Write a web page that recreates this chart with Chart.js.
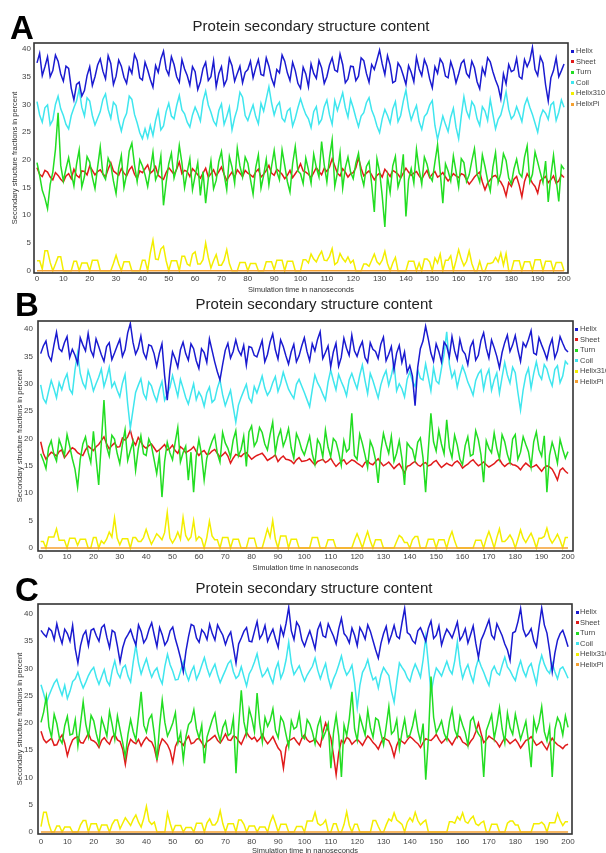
<!DOCTYPE html>
<html>
<head>
<meta charset="utf-8">
<script src="https://cdn.jsdelivr.net/npm/chart.js@4.4.1/dist/chart.umd.min.js"></script>
<style>
  html, body { margin: 0; padding: 0; background: #fff; }
  #page { position: relative; width: 606px; height: 853px; overflow: hidden; font-family: "Liberation Sans", Arial, sans-serif; }
  canvas { position: absolute; left: 0; }
  .letter { position: absolute; font-weight: bold; font-size: 33px; line-height: 33px; color: #000; }
  .title { position: absolute; left: 311px; transform: translateX(-50%); font-size: 15px; line-height: 15px; color: #222; white-space: nowrap; }
  .dot { position: absolute; width: 3px; height: 3px; }
  .lg { position: absolute; font-size: 7.5px; line-height: 10px; color: #444; white-space: nowrap; }
</style>
</head>
<body>
<div id="page">
  <canvas id="chartA" width="606" height="296" style="top:0px"></canvas>
  <canvas id="chartB" width="606" height="282" style="top:296px"></canvas>
  <canvas id="chartC" width="606" height="282" style="top:575px"></canvas>

  <div class="letter" style="left:10px;top:11px">A</div>
  <div class="letter" style="left:15px;top:288px">B</div>
  <div class="letter" style="left:15px;top:573px">C</div>

  <div class="title" style="top:18px">Protein secondary structure content</div>
  <div class="title" style="top:296px;left:314px">Protein secondary structure content</div>
  <div class="title" style="top:580px;left:314px">Protein secondary structure content</div>
</div>

<script>
// Sampling grid (ns) and axis ticks
const timeNs = Array.from({ length: 201 }, (_, i) => i);
const xTicks = [0, 10, 20, 30, 40, 50, 60, 70, 80, 90, 100, 110, 120, 130, 140, 150, 160, 170, 180, 190, 200];
const yTicks = [0, 5, 10, 15, 20, 25, 30, 35, 40];

const seriesNames = ['Helix', 'Sheet', 'Turn', 'Coil', 'Helix310', 'HelixPi'];
const seriesColors = {
    'Helix': '#1a1ad0',
    'Sheet': '#e01b1b',
    'Turn': '#22dd22',
    'Coil': '#3fe6ee',
    'Helix310': '#f3ee00',
    'HelixPi': '#f5a030'
};

// HelixPi stays at zero the whole run
const helixPiTimes = [0, 200];
const helixPiValues = [0, 0];

// Each series is read at even ns (0..200) and odd ns (1..199)

// Panel A
const helixA = [
    37.5, 35.2, 38.6, 36.1, 37.8, 34.2, 36.5, 30.8, 34.0, 32.5,
    36.8, 35.0, 38.2, 34.6, 37.4, 35.1, 36.9, 33.8, 35.6, 37.9,
    34.4, 36.2, 33.1, 35.8, 39.6, 35.3, 37.2, 34.0, 36.4, 33.5,
    35.9, 34.1, 37.6, 35.0, 33.2, 36.8, 34.5, 37.0, 35.6, 33.9,
    36.3, 34.8, 38.1, 35.2, 36.9, 33.4, 35.7, 37.8, 34.3, 36.1,
    32.9, 35.5, 37.3, 34.7, 36.6, 35.0, 38.4, 35.9, 37.2, 34.6,
    36.8, 35.1, 37.9, 34.0, 36.3, 39.8, 35.4, 37.1, 34.2, 36.7,
    33.6, 35.8, 38.5, 35.2, 36.9, 33.0, 35.6, 37.4, 34.8, 36.2,
    35.5, 38.0, 34.9, 36.6, 32.8, 35.3, 37.7, 34.4, 31.0, 33.7,
    35.9, 38.3, 34.6, 36.8, 40.3, 35.2, 37.5, 30.6, 36.1, 35.0,
    37.3
];
const helixAOdd = [
    39.2, 36.8, 35.0, 38.9, 35.5, 36.9, 32.9, 33.6, 31.5, 35.2,
    33.4, 37.1, 36.0, 38.8, 33.6, 38.0, 34.9, 36.7, 39.0, 34.8,
    37.6, 34.5, 37.0, 38.2, 36.4, 38.6, 35.0, 38.1, 35.2, 36.8,
    32.7, 36.5, 34.3, 37.9, 35.6, 33.4, 38.3, 34.2, 36.9, 35.8,
    37.8, 36.6, 35.4, 38.4, 34.7, 36.3, 38.9, 35.7, 37.6, 33.8,
    36.7, 33.2, 35.6, 37.9, 33.8, 37.1, 36.2, 39.1, 33.9, 36.9,
    34.3, 38.4, 35.6, 37.2, 38.0, 37.3, 38.8, 33.9, 37.5, 35.2,
    37.0, 34.1, 36.4, 38.1, 34.6, 36.8, 38.2, 35.1, 37.7, 33.9,
    37.4, 35.6, 37.8, 34.1, 36.6, 38.4, 35.9, 33.2, 35.5, 37.2,
    36.2, 35.0, 38.1, 37.9, 36.3, 38.6, 33.5, 34.8, 38.4, 36.1
];
const sheetA = [
    18.6, 17.0, 17.8, 16.4, 17.2, 16.0, 17.5, 18.3, 16.8, 17.9,
    18.9, 17.3, 18.2, 16.9, 19.5, 17.6, 18.4, 17.1, 18.8, 16.6,
    17.7, 19.1, 18.0, 17.2, 16.5, 18.6, 17.4, 19.6, 18.1, 17.0,
    17.9, 16.7, 18.5, 17.5, 17.1, 18.7, 16.3, 17.8, 18.2, 17.0,
    17.6, 16.9, 18.3, 17.4, 19.0, 17.2, 17.9, 16.6, 18.1, 17.5,
    19.3, 17.8, 16.8, 18.6, 17.3, 17.9, 20.2, 17.6, 18.4, 16.9,
    17.7, 20.4, 17.1, 18.0, 16.4, 17.6, 18.3, 17.0, 17.8, 16.7,
    18.5, 17.2, 17.9, 16.5, 18.1, 17.4, 16.9, 17.7, 16.2, 17.5,
    16.8, 17.3, 15.6, 16.9, 17.8, 14.6, 16.4, 17.2, 16.0, 13.5,
    15.2, 17.0, 13.3, 17.5, 15.8, 14.0, 16.6, 15.9, 17.1, 16.2,
    16.8
];
const sheetAOdd = [
    17.4, 18.1, 16.9, 17.7, 16.5, 17.1, 16.6, 17.2, 18.0, 17.3,
    18.1, 17.9, 17.5, 18.3, 18.0, 17.2, 17.6, 18.2, 17.4, 18.0,
    18.4, 17.6, 18.8, 16.8, 17.7, 18.0, 18.3, 17.5, 17.9, 18.4,
    17.3, 17.6, 16.9, 18.2, 17.9, 17.4, 17.1, 16.8, 17.6, 18.1,
    17.3, 17.8, 16.9, 18.1, 17.6, 18.3, 17.4, 17.2, 16.8, 18.2,
    18.0, 17.4, 17.7, 17.9, 18.5, 18.7, 18.9, 17.1, 17.8, 17.5,
    18.6, 18.5, 17.6, 17.3, 17.2, 16.9, 17.7, 18.1, 17.4, 17.6,
    17.8, 17.6, 17.1, 17.4, 16.8, 17.9, 17.2, 16.9, 16.8, 17.1,
    17.5, 16.4, 16.2, 17.4, 16.0, 15.8, 17.0, 16.5, 15.1, 15.9,
    16.5, 15.4, 16.1, 16.7, 15.2, 16.3, 17.0, 16.4, 15.8, 17.3
];
const turnA = [
    19.5, 14.5, 11.2, 17.8, 28.5, 16.2, 20.4, 15.3, 21.8, 17.0,
    19.6, 14.8, 22.3, 16.5, 19.1, 13.9, 20.8, 17.4, 23.0, 16.1,
    18.9, 15.2, 21.4, 17.6, 11.8, 19.3, 16.7, 22.6, 15.0, 20.2,
    17.1, 13.6, 12.2, 19.8, 16.3, 21.5, 14.6, 18.7, 22.1, 16.9,
    19.4, 13.8, 20.9, 17.2, 15.5, 21.7, 16.4, 19.0, 14.2, 22.4,
    17.5, 20.3, 15.8, 18.6, 23.3, 16.0, 23.6, 17.7, 14.9, 20.5,
    16.6, 21.2, 15.4, 19.7, 10.6, 17.9, 7.9, 14.1, 20.6, 16.8,
    9.8, 18.4, 21.9, 15.6, 19.2, 16.2, 22.7, 12.2, 18.0, 20.7,
    15.1, 19.5, 17.3, 22.0, 16.0, 18.8, 14.4, 21.3, 17.6, 19.9,
    15.7, 20.1, 16.9, 22.5, 17.4, 19.6, 15.9, 12.4, 20.8, 12.5,
    18.3
];
const turnAOdd = [
    17.2, 13.1, 15.6, 21.9, 19.0, 18.4, 17.6, 19.2, 15.1, 20.6,
    16.9, 18.7, 17.4, 20.3, 16.2, 18.5, 15.0, 21.6, 19.1, 20.0,
    17.3, 18.2, 16.4, 20.7, 15.9, 21.2, 18.5, 19.4, 17.8, 14.6,
    19.5, 17.9, 16.6, 14.8, 19.7, 17.4, 20.6, 15.8, 18.9, 20.5,
    16.5, 18.6, 14.9, 20.1, 18.8, 17.9, 21.8, 16.1, 19.3, 18.0,
    15.7, 18.2, 21.0, 16.9, 19.1, 20.4, 15.2, 21.3, 18.6, 17.8,
    19.4, 17.3, 18.8, 15.6, 20.2, 13.5, 17.0, 18.9, 15.1, 21.0,
    16.4, 15.8, 18.3, 20.5, 17.1, 19.6, 17.8, 19.3, 16.2, 17.9,
    20.2, 16.1, 19.8, 17.5, 20.9, 16.3, 18.7, 15.9, 21.1, 16.7,
    18.4, 17.6, 20.5, 16.0, 21.4, 17.7, 19.8, 17.1, 16.5, 19.0
];
const coilA = [
    30.5, 26.8, 29.9, 27.2, 31.5, 28.0, 25.6, 29.4, 32.8, 27.9,
    30.6, 26.3, 28.7, 31.9, 27.5, 29.8, 25.2, 28.4, 30.9, 26.7,
    23.8, 24.0, 24.4, 28.9, 26.1, 30.2, 27.4, 31.6, 28.3, 25.9,
    29.5, 27.0, 32.4, 28.6, 26.2, 30.1, 27.8, 25.4, 29.2, 31.3,
    27.1, 29.9, 26.5, 28.8, 33.2, 28.1, 30.4, 26.9, 29.3, 27.5,
    31.0, 28.2, 25.8, 29.6, 27.3, 30.8, 26.4, 28.9, 32.1, 27.7,
    29.4, 26.0, 28.5, 31.2, 27.8, 24.9, 29.1, 26.6, 30.5, 28.0,
    32.6, 27.2, 29.8, 25.5, 28.4, 30.7, 23.7, 27.9, 25.1, 29.3,
    23.8, 31.4, 27.6, 29.7, 26.2, 28.8, 30.9, 25.6, 28.1, 32.3,
    27.4, 29.6, 26.9, 31.1, 28.2, 25.0, 29.0, 27.3, 30.4, 28.6,
    29.5
];
const coilAOdd = [
    28.1, 29.4, 26.3, 30.0, 29.2, 26.4, 28.0, 30.6, 29.5, 31.2,
    28.0, 27.5, 30.9, 29.1, 30.4, 27.0, 27.3, 31.5, 28.2, 24.9,
    25.6, 26.2, 27.1, 25.4, 28.7, 27.9, 29.8, 29.0, 26.8, 28.1,
    28.4, 30.6, 29.9, 27.0, 28.9, 26.4, 29.5, 27.6, 32.2, 28.0,
    28.6, 27.8, 30.2, 31.0, 30.3, 29.7, 27.5, 28.8, 26.1, 29.4,
    29.5, 27.4, 28.7, 26.5, 29.6, 28.1, 30.7, 30.5, 29.4, 30.9,
    27.6, 27.9, 30.3, 29.0, 26.1, 27.4, 28.0, 29.2, 26.9, 30.6,
    29.3, 28.6, 26.9, 27.8, 29.9, 26.2, 25.8, 26.4, 27.7, 25.9,
    27.9, 28.8, 30.5, 27.4, 29.6, 27.1, 28.2, 27.3, 30.0, 29.1,
    28.0, 28.3, 29.8, 29.5, 26.6, 27.7, 28.4, 29.9, 27.1, 30.8
];
const helix310A = [
    1.8, 0.3, 3.6, 0.0, 2.5, 0.0, 0.0, 1.7, 0.0, 1.4,
    0.0, 1.9, 0.0, 0.0, 0.0, 2.8, 0.0, 1.6, 0.0, 0.0,
    1.9, 0.0, 5.5, 2.0, 4.4, 0.0, 1.8, 0.0, 2.6, 0.9,
    3.4, 1.2, 5.0, 0.5, 2.9, 1.0, 3.8, 0.0, 0.0, 1.5,
    0.0, 1.3, 0.0, 0.0, 1.6, 0.2, 1.9, 0.0, 1.7, 0.0,
    0.0, 2.0, 3.0, 1.6, 3.5, 1.8, 4.0, 1.5, 2.2, 2.5,
    1.9, 0.0, 1.2, 0.8, 3.0, 1.1, 3.5, 0.0, 2.4, 0.0,
    0.0, 1.7, 0.0, 0.0, 2.1, 0.0, 1.4, 0.0, 1.9, 0.0,
    3.8, 0.9, 3.6, 0.0, 1.7, 0.0, 1.3, 2.4, 3.2, 3.1,
    0.0, 1.8, 0.0, 1.6, 0.0, 2.0, 0.0, 1.7, 0.0, 1.5,
    0.0
];
const helix310AOdd = [
    1.8, 3.6, 1.5, 1.2, 2.5, 0.0, 0.0, 1.7, 1.4, 1.4,
    1.9, 1.9, 0.0, 0.0, 1.3, 1.2, 1.6, 1.6, 0.0, 0.0,
    1.9, 3.2, 2.1, 3.9, 1.8, 1.8, 1.8, 2.6, 1.2, 3.0,
    1.2, 2.0, 2.4, 1.8, 1.0, 1.9, 1.3, 0.0, 1.5, 1.5,
    1.3, 1.3, 0.0, 1.6, 1.6, 1.9, 1.9, 1.7, 1.7, 0.0,
    2.0, 1.4, 2.1, 2.7, 1.9, 2.6, 1.1, 3.1, 1.6, 1.4,
    0.0, 0.0, 1.2, 1.9, 1.6, 1.9, 1.3, 1.4, 0.0, 0.0,
    1.7, 1.7, 1.4, 2.1, 1.6, 2.3, 3.0, 1.9, 2.7, 1.8,
    2.1, 1.7, 1.3, 0.0, 0.0, 1.3, 1.5, 1.6, 1.0, 0.0,
    1.8, 1.8, 1.6, 1.6, 2.0, 2.0, 1.7, 1.7, 1.5, 1.5
];

// Panel B
const helixB = [
    35.5, 37.8, 34.2, 39.4, 35.9, 38.6, 36.3, 33.7, 37.1, 39.2,
    35.0, 36.8, 34.1, 37.5, 35.6, 38.1, 36.2, 41.0, 35.4, 38.7,
    34.6, 36.9, 33.2, 37.3, 27.0, 35.8, 33.0, 37.6, 34.3, 36.4,
    32.8, 35.7, 38.2, 34.0, 30.7, 36.1, 34.7, 38.0, 35.2, 33.4,
    36.6, 34.9, 37.9, 35.3, 39.1, 34.5, 36.8, 33.6, 37.2, 35.1,
    38.4, 34.2, 36.0, 39.5, 35.7, 33.1, 37.4, 34.8, 36.5, 38.9,
    35.0, 37.7, 33.9, 36.3, 34.6, 38.5, 35.4, 32.6, 37.0, 35.8,
    33.3, 26.0, 36.4, 40.5, 35.6, 37.3, 34.0, 36.9, 38.6, 34.4,
    36.1, 33.5, 37.8, 35.2, 39.3, 34.7, 36.6, 32.9, 37.5, 35.9,
    38.8, 34.1, 36.7, 39.7, 35.3, 37.1, 34.5, 38.2, 36.0, 37.4,
    35.8
];
const helixBOdd = [
    36.9, 35.1, 37.0, 36.4, 37.5, 34.8, 35.2, 38.4, 36.0, 36.1,
    38.2, 35.3, 36.8, 34.4, 36.9, 35.0, 39.3, 37.6, 36.5, 35.7,
    37.1, 35.5, 35.6, 31.5, 32.4, 34.6, 36.2, 35.5, 37.3, 34.2,
    36.4, 33.9, 36.1, 32.2, 33.5, 37.4, 35.9, 36.1, 37.0, 36.8,
    35.2, 36.4, 34.0, 37.6, 36.2, 38.0, 35.1, 35.8, 34.0, 36.9,
    35.9, 37.3, 38.1, 34.6, 36.9, 35.8, 33.2, 38.3, 35.2, 36.0,
    36.6, 34.8, 37.5, 35.9, 37.2, 34.2, 36.8, 35.6, 33.9, 32.1,
    31.4, 33.0, 37.8, 38.2, 34.1, 35.9, 37.6, 34.9, 36.0, 38.1,
    35.4, 36.7, 34.3, 37.9, 36.5, 38.0, 35.0, 35.7, 38.9, 37.1,
    36.2, 37.5, 38.1, 35.6, 38.4, 35.9, 36.8, 34.7, 38.6, 36.3
];
const sheetB = [
    19.4, 16.2, 17.5, 16.8, 17.9, 17.1, 18.3, 17.4, 16.9, 18.6,
    17.8, 18.9, 20.3, 18.1, 19.2, 18.5, 19.7, 21.5, 18.8, 19.4,
    18.2, 19.0, 17.6, 18.4, 17.9, 18.8, 17.3, 18.1, 17.7, 18.5,
    16.9, 17.8, 17.2, 18.0, 16.6, 17.5, 15.5, 17.1, 16.7, 17.4,
    16.2, 16.9, 17.3, 16.0, 16.6, 15.8, 16.8, 16.1, 15.4, 16.5,
    15.9, 16.3, 15.2, 16.0, 15.6, 16.4, 14.9, 15.8, 15.3, 16.1,
    15.5, 14.8, 15.9, 15.2, 16.3, 15.0, 15.7, 14.5, 15.4, 13.7,
    15.1, 15.8, 14.9, 15.6, 15.2, 16.0, 14.7, 15.5, 15.0, 15.9,
    14.6, 15.3, 16.1, 15.0, 15.7, 14.8, 15.4, 16.2, 14.9, 15.6,
    15.1, 14.3, 15.5, 14.7, 15.2, 14.0, 15.0, 14.4, 12.4, 14.6,
    13.6
];
const sheetBOdd = [
    17.3, 16.9, 17.2, 17.6, 16.5, 17.8, 18.0, 17.1, 17.9, 18.2,
    18.5, 19.6, 19.0, 18.7, 18.4, 20.1, 20.3, 19.6, 20.2, 18.6,
    18.7, 18.3, 17.9, 18.9, 18.2, 17.8, 18.5, 17.4, 18.0, 17.6,
    17.5, 17.1, 17.7, 17.3, 17.0, 16.8, 16.4, 16.9, 17.2, 16.8,
    16.6, 17.1, 16.7, 16.3, 17.0, 16.4, 16.2, 15.9, 16.1, 15.8,
    16.0, 15.7, 15.8, 16.2, 15.9, 15.6, 15.4, 16.1, 15.7, 15.9,
    15.2, 15.6, 15.4, 15.8, 15.6, 15.3, 15.1, 15.0, 14.6, 14.9,
    15.5, 15.2, 15.4, 15.0, 15.7, 15.3, 15.1, 15.2, 15.6, 15.4,
    15.0, 15.8, 15.5, 15.3, 15.2, 15.1, 15.9, 15.4, 15.3, 15.2,
    14.8, 15.0, 15.1, 14.9, 14.6, 14.7, 14.8, 13.5, 14.2, 14.0
];
const turnB = [
    17.2, 14.5, 19.6, 15.9, 18.4, 20.7, 16.3, 11.1, 19.0, 17.5,
    21.3, 11.5, 27.0, 16.8, 19.9, 15.4, 21.6, 17.8, 14.2, 20.5,
    16.9, 18.7, 13.6, 9.3, 19.3, 16.1, 22.0, 17.4, 12.4, 10.2,
    19.8, 12.4, 18.1, 20.6, 15.7, 19.2, 16.6, 21.4, 18.0, 14.9,
    22.3, 19.5, 21.1, 17.9, 23.0, 20.2, 18.6, 21.8, 16.4, 19.7,
    17.0, 20.4, 15.3, 18.9, 21.5, 16.7, 19.4, 15.1, 17.6, 24.6,
    16.2, 19.1, 14.7, 18.3, 11.9, 20.9, 17.3, 15.8, 19.6, 11.5,
    18.5, 16.0, 20.1, 10.2, 24.6, 17.7, 19.0, 23.4, 16.5, 18.8,
    15.2, 20.3, 17.1, 19.8, 12.0, 18.2, 21.0, 16.3, 19.4, 15.6,
    20.7, 17.5, 18.9, 14.8, 21.2, 16.8, 10.2, 19.3, 15.5, 18.0,
    17.6
];
const turnBOdd = [
    16.0, 18.3, 17.1, 19.8, 16.9, 18.6, 14.4, 16.2, 20.3, 15.6,
    16.4, 19.2, 18.5, 20.6, 17.3, 18.9, 16.0, 19.4, 18.1, 17.2,
    19.9, 16.2, 17.0, 15.8, 17.4, 19.3, 15.7, 18.6, 17.5, 16.7,
    17.1, 16.4, 19.5, 17.3, 21.1, 18.2, 19.7, 16.8, 20.4, 21.2,
    18.6, 22.0, 19.0, 20.7, 17.4, 21.6, 19.9, 18.3, 20.9, 18.0,
    18.7, 17.2, 19.8, 16.6, 18.4, 20.0, 17.5, 19.6, 18.1, 16.9,
    20.8, 17.0, 19.5, 16.1, 17.6, 18.9, 20.4, 17.3, 16.4, 19.2,
    18.0, 19.3, 16.5, 17.8, 19.4, 21.5, 17.2, 18.3, 20.6, 16.2,
    18.7, 16.8, 21.4, 17.0, 19.6, 17.4, 18.2, 20.7, 17.1, 19.9,
    16.2, 20.3, 17.6, 19.4, 18.0, 20.5, 16.9, 17.7, 19.8, 16.4
];
const coilB = [
    29.8, 26.5, 30.6, 27.4, 28.9, 31.8, 28.2, 35.6, 30.1, 32.4,
    28.7, 31.2, 29.5, 33.0, 30.3, 27.6, 31.7, 21.9, 28.4, 30.9,
    27.2, 29.6, 26.8, 30.4, 28.1, 31.5, 27.7, 29.2, 26.3, 30.0,
    28.5, 25.9, 29.4, 27.1, 30.7, 26.0, 28.8, 23.0, 27.5, 29.9,
    26.6, 28.3, 31.4, 27.9, 30.2, 28.6, 32.1, 29.0, 27.3, 30.8,
    28.4, 25.8, 31.6, 29.3, 27.0, 32.5, 28.9, 30.4, 27.8, 31.9,
    29.1, 33.4, 28.2, 30.6, 27.4, 31.3, 29.7, 33.8, 30.0, 27.6,
    32.2, 29.5, 31.0, 33.6, 28.7, 30.5, 32.8, 39.5, 31.1, 29.4,
    33.2, 30.3, 27.9, 31.8, 29.0, 32.6, 30.7, 28.3, 33.9, 30.1,
    32.0, 25.2, 31.5, 29.2, 34.0, 30.8, 32.7, 29.6, 33.3, 31.4,
    33.5
];
const coilBOdd = [
    27.3, 28.6, 29.1, 30.2, 30.7, 29.0, 32.5, 31.9, 29.2, 30.8,
    30.0, 32.7, 31.1, 29.4, 28.8, 30.1, 26.3, 25.2, 29.7, 28.2,
    30.3, 28.0, 28.9, 27.0, 29.3, 29.6, 30.8, 27.5, 28.2, 27.1,
    27.6, 28.3, 26.6, 29.2, 28.0, 27.4, 25.8, 26.1, 28.7, 27.4,
    29.5, 29.8, 29.2, 28.7, 31.3, 30.0, 30.5, 28.1, 29.9, 29.6,
    27.1, 28.9, 30.2, 28.1, 30.3, 30.6, 31.7, 29.3, 30.7, 30.4,
    31.5, 30.6, 31.9, 29.0, 29.8, 32.4, 31.5, 28.7, 29.1, 30.8,
    30.4, 32.6, 30.7, 31.2, 32.9, 30.0, 35.4, 33.6, 32.3, 31.5,
    31.9, 29.2, 30.6, 32.5, 31.4, 28.8, 32.0, 31.2, 31.6, 33.0,
    28.4, 28.9, 32.8, 31.9, 31.7, 33.5, 30.9, 32.6, 30.2, 34.1
];
const helix310B = [
    1.2, 0.0, 2.0, 3.5, 1.4, 0.0, 1.8, 0.5, 1.6, 0.0,
    1.9, 0.0, 0.8, 2.9, 5.5, 0.6, 1.7, 0.0, 1.9, 1.2,
    3.4, 0.7, 2.6, 1.5, 6.5, 0.9, 2.9, 5.6, 1.4, 5.0,
    2.1, 0.0, 4.9, 1.5, 0.0, 1.9, 0.0, 1.6, 0.0, 0.0,
    1.8, 0.0, 0.0, 3.5, 5.0, 0.0, 2.2, 0.0, 1.6, 0.0,
    0.0, 0.0, 1.9, 0.0, 0.0, 1.5, 0.0, 0.0, 0.0, 0.0,
    2.6, 0.0, 3.0, 0.0, 1.5, 0.0, 0.0, 0.0, 2.3, 1.0,
    0.0, 2.1, 0.0, 0.0, 1.6, 0.0, 1.5, 0.0, 3.0, 0.0,
    0.0, 0.0, 0.0, 1.4, 0.0, 3.0, 0.0, 3.5, 1.2, 2.4,
    0.0, 3.3, 1.0, 2.7, 0.0, 1.8, 3.6, 0.9, 2.5, 0.0,
    1.9
];
const helix310BOdd = [
    1.2, 2.0, 2.0, 1.4, 1.4, 1.8, 1.8, 1.6, 1.6, 0.0,
    1.9, 1.3, 1.6, 2.0, 1.8, 1.7, 1.7, 1.9, 1.2, 1.9,
    1.9, 1.6, 2.1, 2.8, 1.8, 1.7, 1.6, 2.3, 2.0, 1.4,
    1.7, 1.9, 2.2, 1.5, 1.9, 1.9, 1.6, 1.6, 0.0, 1.8,
    1.8, 0.0, 1.7, 2.0, 1.6, 2.2, 2.2, 1.6, 1.6, 0.0,
    0.0, 1.9, 1.9, 0.0, 1.5, 1.5, 0.0, 0.0, 0.0, 1.4,
    1.4, 1.6, 1.3, 1.5, 1.5, 0.0, 0.0, 1.2, 1.9, 1.0,
    1.5, 2.1, 0.0, 1.6, 1.6, 1.5, 1.5, 1.8, 1.3, 0.0,
    0.0, 0.0, 1.4, 1.4, 1.7, 1.6, 1.9, 1.2, 1.7, 1.5,
    1.6, 1.8, 1.9, 1.5, 1.8, 2.1, 1.8, 1.6, 1.4, 1.9
];

// Panel C
const helixC = [
    37.0, 35.8, 36.9, 38.2, 34.6, 36.4, 37.9, 31.0, 36.1, 34.2,
    37.3, 35.0, 38.0, 33.8, 36.6, 31.2, 35.4, 37.1, 34.3, 36.8,
    35.5, 38.4, 34.0, 36.2, 35.1, 37.6, 33.7, 29.4, 35.9, 37.8,
    34.8, 36.5, 38.1, 35.2, 37.0, 34.4, 36.7, 31.0, 35.6, 37.5,
    34.9, 38.6, 36.3, 35.0, 37.2, 33.9, 36.0, 41.2, 35.3, 37.7,
    34.1, 36.9, 33.6, 38.3, 35.7, 37.0, 34.5, 39.2, 35.8, 37.4,
    34.2, 36.6, 38.0, 35.1, 31.9, 36.4, 34.8, 37.9, 35.5, 41.0,
    36.2, 34.6, 37.5, 35.0, 38.7, 36.1, 34.3, 37.2, 35.6, 38.5,
    36.0, 34.7, 37.8, 32.0, 36.3, 38.9, 35.4, 37.1, 34.5, 31.5,
    36.8, 41.0, 35.9, 37.3, 34.0, 41.1, 36.5, 29.4, 35.2, 37.0,
    34.0
];
const helixCOdd = [
    36.3, 37.4, 35.3, 36.1, 37.2, 35.0, 33.6, 34.2, 36.9, 37.0,
    36.0, 37.5, 35.7, 37.0, 34.1, 33.8, 36.2, 35.6, 38.0, 34.7,
    37.2, 36.1, 37.5, 34.3, 36.9, 35.4, 31.8, 33.2, 38.1, 35.6,
    37.1, 35.3, 36.4, 38.0, 36.1, 35.8, 33.9, 34.5, 36.8, 35.0,
    36.8, 35.5, 37.9, 36.2, 35.4, 37.6, 38.3, 36.9, 38.5, 35.2,
    35.6, 35.3, 37.1, 36.0, 38.2, 35.9, 37.3, 36.4, 34.7, 36.1,
    37.5, 35.4, 36.8, 33.4, 34.6, 37.7, 36.2, 35.9, 38.4, 36.6,
    35.1, 36.9, 36.3, 37.4, 35.5, 37.8, 35.9, 36.5, 37.0, 35.2,
    37.3, 36.2, 34.6, 35.2, 37.6, 36.1, 38.2, 36.0, 33.4, 36.5,
    38.6, 37.2, 36.4, 35.1, 37.7, 38.0, 33.3, 32.8, 36.4, 35.6
];
const sheetC = [
    18.5, 16.4, 17.2, 16.0, 17.8, 14.0, 16.9, 17.5, 16.3, 18.1,
    16.7, 15.5, 17.3, 16.1, 17.9, 16.6, 12.4, 17.0, 16.2, 15.8,
    17.4, 16.5, 13.2, 17.1, 16.0, 12.8, 16.8, 15.9, 17.6, 16.4,
    17.2, 15.6, 16.9, 17.7, 16.3, 18.0, 16.8, 17.4, 16.1, 18.3,
    17.0, 16.6, 17.9, 16.2, 17.5, 15.4, 11.7, 16.7, 17.3, 16.0,
    17.8, 16.5, 17.1, 15.7, 20.0, 17.2, 10.5, 16.8, 17.4, 16.1,
    17.0, 15.9, 17.6, 16.4, 15.2, 17.3, 16.7, 13.8, 17.0, 16.2,
    17.5, 16.6, 15.5, 17.1, 16.8, 17.9, 16.3, 17.4, 16.0, 17.7,
    16.5, 15.8, 17.2, 20.0, 16.4, 17.6, 16.9, 15.6, 17.3, 16.2,
    17.0, 15.4, 16.8, 17.5, 15.9, 16.6, 15.1, 17.2, 16.0, 15.3,
    16.1
];
const sheetCOdd = [
    17.0, 16.8, 15.9, 17.1, 16.3, 15.7, 17.3, 16.4, 17.2, 16.9,
    16.3, 16.8, 16.6, 17.4, 16.9, 15.2, 15.6, 16.5, 17.0, 16.7,
    16.8, 15.4, 15.8, 16.6, 14.9, 15.7, 16.5, 16.9, 16.2, 17.0,
    16.4, 16.6, 17.3, 16.8, 17.1, 16.9, 17.6, 16.7, 17.2, 17.5,
    17.4, 17.1, 16.9, 16.8, 16.4, 14.8, 15.5, 17.0, 16.6, 17.2,
    16.9, 16.7, 16.4, 18.3, 18.6, 14.1, 14.6, 16.3, 17.0, 16.6,
    16.5, 16.8, 17.1, 15.9, 16.4, 17.0, 15.6, 15.9, 16.6, 16.9,
    17.1, 16.2, 16.4, 16.9, 17.3, 17.0, 16.8, 16.7, 16.9, 17.4,
    16.2, 16.6, 18.4, 18.1, 16.9, 17.2, 16.4, 16.5, 16.8, 16.6,
    16.3, 16.1, 17.0, 16.7, 16.2, 15.8, 16.4, 16.5, 15.7, 15.9
];
const turnC = [
    20.1, 24.8, 17.4, 19.9, 16.3, 21.2, 18.0, 15.8, 23.9, 17.5,
    20.4, 16.1, 19.3, 22.1, 17.0, 18.8, 13.8, 20.6, 16.9, 25.7,
    18.3, 21.5, 13.2, 24.2, 17.6, 20.0, 16.4, 13.2, 19.7, 22.4,
    17.2, 12.6, 19.0, 21.8, 16.7, 20.3, 18.1, 10.8, 26.0, 17.9,
    20.8, 25.5, 16.5, 19.4, 22.6, 17.3, 20.2, 15.6, 18.9, 21.7,
    17.1, 19.8, 16.2, 20.9, 18.4, 11.7, 21.4, 10.1, 17.7, 25.7,
    16.8, 19.5, 22.3, 17.4, 20.5, 16.0, 23.0, 18.6, 15.3, 20.7,
    17.8, 21.9, 16.6, 9.6, 28.5, 18.2, 20.4, 16.9, 22.5, 17.5,
    19.6, 15.9, 21.1, 18.0, 10.1, 20.0, 17.2, 22.8, 16.4, 19.1,
    21.6, 17.0, 20.3, 11.9, 18.5, 23.0, 16.7, 10.1, 21.0, 17.8,
    19.2
];
const turnCOdd = [
    22.0, 19.3, 21.6, 17.2, 19.5, 17.8, 20.6, 19.9, 19.8, 21.4,
    18.0, 20.8, 17.6, 19.7, 21.3, 16.4, 17.9, 18.4, 21.2, 19.6,
    20.7, 17.9, 19.4, 20.1, 18.7, 21.9, 18.2, 17.5, 20.3, 18.9,
    19.6, 17.4, 20.6, 18.5, 19.2, 17.7, 20.9, 19.4, 20.2, 22.6,
    18.4, 19.9, 21.0, 20.5, 18.6, 21.1, 17.8, 20.4, 19.3, 17.6,
    20.6, 18.3, 19.4, 17.2, 19.9, 18.2, 17.6, 19.6, 20.8, 18.9,
    21.2, 17.8, 19.1, 20.9, 18.1, 19.4, 18.0, 20.6, 18.3, 17.4,
    19.5, 18.7, 19.9, 17.1, 21.0, 19.2, 18.1, 20.3, 18.8, 21.2,
    18.2, 20.4, 19.0, 17.3, 18.6, 21.5, 19.7, 18.9, 21.8, 17.9,
    19.3, 18.6, 16.5, 20.7, 20.1, 18.4, 19.2, 18.8, 20.0, 21.3
];
const coilC = [
    27.0, 23.6, 26.2, 28.0, 25.1, 24.5, 27.6, 29.3, 26.4, 28.7,
    30.2, 27.1, 29.8, 26.9, 31.4, 28.3, 30.6, 27.5, 34.3, 29.0,
    31.8, 28.4, 30.1, 27.2, 32.6, 29.5, 28.0, 31.2, 27.8, 30.4,
    29.1, 32.0, 28.6, 30.8, 27.4, 29.7, 31.5, 28.2, 30.3, 26.8,
    29.9, 32.7, 28.5, 30.0, 27.3, 31.1, 29.4, 34.8, 28.9, 30.5,
    27.7, 29.6, 31.9, 28.1, 30.9, 26.5, 29.2, 32.3, 28.8, 30.6,
    22.8, 29.3, 31.6, 27.9, 26.4, 30.2, 28.7, 23.8, 31.0, 29.5,
    27.6, 30.8, 28.4, 35.8, 25.5, 30.1, 28.6, 31.3, 29.0, 34.9,
    28.2, 30.7, 27.5, 31.8, 29.3, 26.9, 30.4, 28.8, 32.1, 29.6,
    27.8, 31.4, 28.5, 30.9, 27.2, 32.4, 29.7, 31.0, 28.1, 30.3,
    28.2
];
const coilCOdd = [
    25.4, 25.0, 27.3, 26.4, 26.9, 25.8, 28.1, 27.7, 27.5, 29.6,
    28.4, 28.5, 27.7, 29.6, 29.2, 30.1, 28.6, 31.2, 31.0, 30.5,
    29.9, 29.5, 28.3, 30.4, 30.7, 27.9, 29.6, 29.1, 29.4, 28.0,
    30.6, 30.1, 29.8, 28.9, 28.6, 30.9, 29.4, 28.7, 28.5, 29.0,
    31.2, 30.3, 29.1, 28.5, 29.8, 28.2, 31.6, 30.9, 29.7, 29.0,
    28.8, 30.4, 29.7, 29.6, 28.3, 28.1, 30.7, 30.1, 29.5, 27.4,
    26.9, 30.2, 29.5, 28.4, 28.8, 29.4, 25.8, 27.6, 30.2, 28.3,
    29.5, 29.7, 31.6, 30.9, 28.2, 29.4, 30.0, 29.8, 31.4, 30.7,
    29.7, 28.9, 30.1, 30.4, 28.0, 29.5, 29.2, 30.6, 30.3, 28.6,
    29.9, 29.6, 30.2, 29.0, 30.5, 30.8, 29.1, 29.4, 29.9, 29.3
];
const helix310C = [
    1.0, 3.6, 0.0, 1.1, 0.0, 0.9, 0.0, 0.0, 2.1, 0.0,
    1.5, 0.0, 1.3, 0.0, 2.2, 0.6, 2.6, 1.2, 3.1, 0.9,
    4.7, 1.4, 0.0, 0.0, 3.5, 0.0, 1.2, 0.0, 0.8, 0.0,
    1.6, 0.0, 2.4, 1.3, 3.9, 0.0, 1.5, 0.0, 2.2, 0.0,
    1.1, 0.0, 0.9, 0.0, 3.0, 0.0, 1.4, 0.0, 0.0, 1.0,
    0.0, 2.0, 3.6, 1.2, 2.2, 0.0, 1.5, 0.0, 3.7, 0.0,
    1.4, 0.0, 0.0, 2.1, 1.0, 0.0, 2.4, 3.5, 1.8, 0.0,
    2.6, 3.6, 1.3, 2.2, 0.0, 0.0, 0.0, 0.0, 1.9, 2.8,
    3.5, 1.6, 2.9, 1.2, 2.0, 0.0, 1.4, 0.0, 0.0, 2.0,
    1.3, 0.0, 0.0, 0.0, 1.5, 1.8, 0.0, 1.7, 3.4, 1.2,
    1.9
];
const helix310COdd = [
    3.6, 1.4, 0.0, 1.1, 0.9, 0.9, 0.0, 1.3, 2.1, 1.5,
    1.5, 1.3, 1.3, 1.4, 2.2, 1.6, 1.9, 2.3, 1.8, 2.5,
    2.0, 1.8, 0.0, 0.0, 1.6, 1.2, 1.2, 0.8, 0.8, 1.6,
    1.6, 1.7, 1.3, 2.0, 1.5, 1.5, 1.5, 2.2, 1.4, 1.1,
    1.1, 0.9, 0.9, 1.8, 1.6, 1.4, 1.4, 0.0, 1.0, 1.0,
    2.0, 2.0, 1.6, 1.5, 0.0, 1.5, 0.0, 1.4, 1.2, 1.4,
    0.0, 0.0, 0.0, 2.1, 0.0, 1.3, 2.0, 2.2, 1.4, 1.8,
    1.9, 2.1, 1.8, 0.0, 0.0, 0.0, 0.0, 1.9, 1.6, 2.2,
    1.9, 2.4, 1.5, 1.7, 0.0, 1.4, 1.4, 0.0, 1.6, 2.0,
    1.3, 0.0, 0.0, 1.5, 1.5, 1.3, 1.7, 1.7, 2.1, 1.9
];

// Layout of the three panels (pixel frame of each plot box)
const panels = [
    {
        id: 'chartA', top: 0, height: 296,
        frame: { left: 34, top: 43, right: 568, bottom: 273 },
        xRange: [-1.14, 201.5], yRange: [-0.41, 41.08],
        yTitlePad: 10.5, yTickPad: 3, xTickPad: 1,
        legend: { dotX: 572, textX: 576, y: 51, step: 10.6 },
        series: {
            Helix: [helixA, helixAOdd], Sheet: [sheetA, sheetAOdd], Turn: [turnA, turnAOdd],
            Coil: [coilA, coilAOdd], Helix310: [helix310A, helix310AOdd]
        }
    },
    {
        id: 'chartB', top: 296, height: 282,
        frame: { left: 38, top: 321, right: 573, bottom: 551 },
        xRange: [-1.02, 201.9], yRange: [-0.55, 41.46],
        yTitlePad: 15.5, yTickPad: 5, xTickPad: 1,
        legend: { dotX: 576, textX: 580, y: 329.3, step: 10.5 },
        series: {
            Helix: [helixB, helixBOdd], Sheet: [sheetB, sheetBOdd], Turn: [turnB, turnBOdd],
            Coil: [coilB, coilBOdd], Helix310: [helix310B, helix310BOdd]
        }
    },
    {
        id: 'chartC', top: 575, height: 282,
        frame: { left: 38, top: 604, right: 572, bottom: 834 },
        xRange: [-1.14, 201.5], yRange: [-0.37, 41.83],
        yTitlePad: 15.5, yTickPad: 5, xTickPad: 3,
        legend: { dotX: 577, textX: 580, y: 612.3, step: 10.5 },
        series: {
            Helix: [helixC, helixCOdd], Sheet: [sheetC, sheetCOdd], Turn: [turnC, turnCOdd],
            Coil: [coilC, coilCOdd], Helix310: [helix310C, helix310COdd]
        }
    }
];

// draw order: lower number ends up on top
const drawOrder = { 'Helix': 1, 'Turn': 2, 'HelixPi': 3, 'Coil': 4, 'Sheet': 5, 'Helix310': 6 };

const X_AXIS_HEIGHT = 21;

Chart.defaults.font.family = '"Liberation Sans", Arial, sans-serif';

const framePlugin = {
    id: 'frame',
    afterDatasetsDraw(chart) {
        const { ctx, chartArea: a } = chart;
        ctx.save();
        ctx.strokeStyle = '#333';
        ctx.lineWidth = 1.6;
        ctx.strokeRect(a.left, a.top, a.right - a.left, a.bottom - a.top);
        ctx.restore();
    }
};

// put the even-ns and odd-ns readings back in time order
function mergeSamples(even, odd) {
    const out = [];
    even.forEach((v, i) => {
        out.push(v);
        if (i < odd.length) out.push(odd[i]);
    });
    return out;
}

function lineSet(name, values, times) {
    return {
        label: name,
        data: values.map((v, i) => ({ x: times[i], y: v })),
        borderColor: seriesColors[name],
        backgroundColor: seriesColors[name],
        borderWidth: 1.5,
        pointRadius: 0,
        tension: 0,
        fill: false,
        order: drawOrder[name]
    };
}

function buildChart(panel) {
    const f = panel.frame;
    const datasets = ['Helix', 'Sheet', 'Turn', 'Coil', 'Helix310'].map(name => {
        const [even, odd] = panel.series[name];
        return lineSet(name, mergeSamples(even, odd), timeNs);
    });
    datasets.push(lineSet('HelixPi', helixPiValues, helixPiTimes));

    new Chart(document.getElementById(panel.id), {
        type: 'line',
        data: { datasets },
        plugins: [framePlugin],
        options: {
            responsive: false,
            animation: false,
            devicePixelRatio: 1,
            layout: {
                padding: {
                    left: 0,
                    top: f.top - panel.top,
                    right: 606 - f.right,
                    bottom: panel.top + panel.height - f.bottom - X_AXIS_HEIGHT
                }
            },
            plugins: { legend: { display: false }, tooltip: { enabled: false } },
            scales: {
                x: {
                    type: 'linear',
                    min: panel.xRange[0],
                    max: panel.xRange[1],
                    afterBuildTicks: axis => { axis.ticks = xTicks.map(v => ({ value: v })); },
                    afterFit: axis => { axis.height = X_AXIS_HEIGHT; },
                    grid: { display: false, drawTicks: false },
                    border: { display: false },
                    ticks: { color: '#444', font: { size: 8 }, padding: panel.xTickPad, maxRotation: 0, autoSkip: false },
                    title: {
                        display: true,
                        text: 'Simulation time in nanoseconds',
                        color: '#333',
                        font: { size: 7.5 },
                        padding: { top: 0, bottom: 0 }
                    }
                },
                y: {
                    type: 'linear',
                    min: panel.yRange[0],
                    max: panel.yRange[1],
                    afterBuildTicks: axis => { axis.ticks = yTicks.map(v => ({ value: v })); },
                    afterFit: axis => { axis.width = f.left; },
                    grid: { display: false, drawTicks: false },
                    border: { display: false },
                    ticks: { color: '#444', font: { size: 8 }, padding: panel.yTickPad },
                    title: {
                        display: true,
                        text: 'Secondary structure fractions in percent',
                        color: '#333',
                        font: { size: 7.5 },
                        padding: { top: panel.yTitlePad, bottom: 0 }
                    }
                }
            }
        }
    });
}

function buildLegend(panel) {
    const page = document.getElementById('page');
    const lg = panel.legend;
    seriesNames.forEach((name, i) => {
        const y = lg.y + i * lg.step;
        const dot = document.createElement('div');
        dot.className = 'dot';
        dot.style.left = (lg.dotX - 1.5) + 'px';
        dot.style.top = (y - 1.5) + 'px';
        dot.style.background = seriesColors[name];
        page.appendChild(dot);

        const txt = document.createElement('div');
        txt.className = 'lg';
        txt.style.left = lg.textX + 'px';
        txt.style.top = (y - 5) + 'px';
        txt.textContent = name;
        page.appendChild(txt);
    });
}

panels.forEach(p => {
    buildChart(p);
    buildLegend(p);
});
</script>
</body>
</html>
